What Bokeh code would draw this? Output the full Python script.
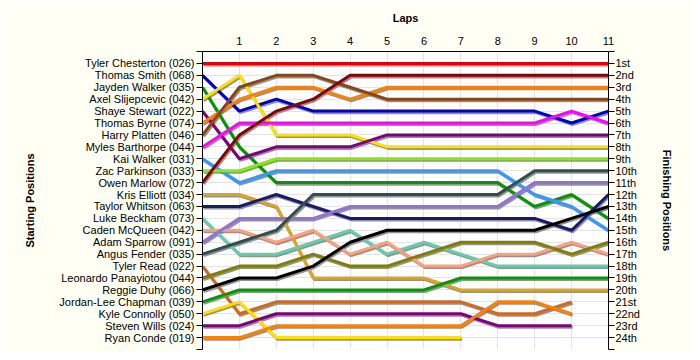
from bokeh.plotting import figure
from bokeh.models import Range1d, FixedTicker, LinearAxis
from bokeh.embed import file_html
from bokeh.resources import INLINE

# ---- data ----
laps_ticks = [0, 1, 2, 3, 4, 5, 6, 7, 8, 9, 10, 11]
lap_labels = ["", "1", "2", "3", "4", "5", "6", "7", "8", "9", "10", "11"]

drivers = [
    "Tyler Chesterton (026)", "Thomas Smith (068)", "Jayden Walker (035)",
    "Axel Slijepcevic (042)", "Shaye Stewart (022)", "Thomas Byrne (074)",
    "Harry Platten (046)", "Myles Barthorpe (044)", "Kai Walker (031)",
    "Zac Parkinson (033)", "Owen Marlow (072)", "Kris Elliott (034)",
    "Taylor Whitson (063)", "Luke Beckham (073)", "Caden McQueen (042)",
    "Adam Sparrow (091)", "Angus Fender (035)", "Tyler Read (022)",
    "Leonardo Panayiotou (044)", "Reggie Duhy (066)", "Jordan-Lee Chapman (039)",
    "Kyle Connolly (050)", "Steven Wills (024)", "Ryan Conde (019)",
]

finish_labels = ["1st", "2nd", "3rd", "4th", "5th", "6th", "7th", "8th", "9th",
                 "10th", "11th", "12th", "13th", "14th", "15th", "16th", "17th",
                 "18th", "19th", "20th", "21st", "22nd", "23rd", "24th"]

# positions per lap (lap 0 = start)
positions = [
    [1, 1, 1, 1, 1, 1, 1, 1, 1, 1, 1, 1],
    [2, 5, 4, 5, 5, 5, 5, 5, 5, 5, 6, 5],
    [3, 8, 11, 11, 11, 11, 11, 11, 11, 13, 12, 14],
    [4, 2, 7, 7, 7, 8, 8, 8, 8, 8, 8, 8],
    [5, 9, 8, 8, 8, 7, 7, 7, 7, 7, 7, 7],
    [6, 4, 3, 3, 4, 3, 3, 3, 3, 3, 3, 3],
    [7, 3, 2, 2, 3, 4, 4, 4, 4, 4, 4, 4],
    [8, 6, 6, 6, 6, 6, 6, 6, 6, 6, 5, 6],
    [9, 11, 10, 10, 10, 10, 10, 10, 10, 12, 13, 15],
    [10, 10, 9, 9, 9, 9, 9, 9, 9, 9, 9, 9],
    [11, 7, 5, 4, 2, 2, 2, 2, 2, 2, 2, 2],
    [12, 12, 13, 19, 19, 19, 19, 20, 20, 20, 20, 20],
    [13, 13, 12, 13, 14, 14, 14, 14, 14, 14, 15, 12],
    [14, 17, 17, 16, 15, 17, 16, 17, 18, 18, 18, 18],
    [15, 15, 16, 15, 17, 16, 18, 18, 17, 17, 16, 17],
    [16, 14, 14, 14, 13, 13, 13, 13, 13, 11, 11, 11],
    [17, 16, 15, 12, 12, 12, 12, 12, 12, 10, 10, 10],
    [18, 22, 21, 21, 21, 21, 21, 21, 22, 22, 21],
    [19, 18, 18, 17, 18, 18, 17, 16, 16, 16, 17, 16],
    [20, 19, 19, 18, 16, 15, 15, 15, 15, 15, 14, 13],
    [21, 20, 20, 20, 20, 20, 20, 19, 19, 19, 19, 19],
    [22, 21, 24, 24, 24, 24, 24, 24],
    [23, 23, 22, 22, 22, 22, 22, 22, 23, 23, 23],
    [24, 24, 23, 23, 23, 23, 23, 23, 21, 21, 22],
]

colors = [
    "#E00000", "#0000CC", "#009A00", "#FFE000", "#800080", "#FF8000",
    "#8B4513", "#FF00FF", "#3399FF", "#80F000", "#8B0000", "#DAA520",
    "#191970", "#66CDAA", "#FFA07A", "#9370DB", "#2F4F4F", "#D2691E",
    "#808000", "#000000", "#009A00", "#FFE000", "#800080", "#FF8000",
]

FONT = "Liberation Sans"

p = figure(width=692, height=352,
           x_range=Range1d(0, 11), y_range=Range1d(25, 0),
           x_axis_location="above",
           output_backend="svg", toolbar_location=None,
           min_border_left=202, min_border_right=84,
           min_border_top=51, min_border_bottom=3)

p.background_fill_color = "#FFFFFF"
p.border_fill_color = "#FFFFF4"
p.outline_line_color = None

# shadows first
dx, dy = 0.03, 0.13
for pos in positions:
    xs = [laps_ticks[i] + dx for i in range(len(pos))]
    ys = [v + dy for v in pos]
    p.line(xs, ys, line_color="#808080", line_width=3, line_alpha=0.85)

for pos, c in zip(positions, colors):
    xs = [laps_ticks[i] for i in range(len(pos))]
    p.line(xs, pos, line_color=c, line_width=3)

# axes
ytick_vals = list(range(0, 26))
left_over = {0: "", 25: ""}
right_over = {0: "", 25: ""}
for i, name in enumerate(drivers):
    left_over[i + 1] = name
for i, lab in enumerate(finish_labels):
    right_over[i + 1] = lab

x_over = {t: l for t, l in zip(laps_ticks, lap_labels)}

def style_axis(ax):
    ax.major_label_text_font = FONT
    ax.major_label_text_font_size = "11px"
    ax.major_label_text_color = "#000000"
    ax.axis_label_text_font = FONT
    ax.axis_label_text_font_size = "11px"
    ax.axis_label_text_font_style = "bold"
    ax.axis_label_text_color = "#000000"
    ax.axis_line_color = "#000000"
    ax.major_tick_line_color = "#000000"
    ax.minor_tick_line_color = None
    ax.major_tick_in = 0

xa = p.xaxis[0]
xa.ticker = FixedTicker(ticks=laps_ticks)
xa.major_label_overrides = x_over
xa.axis_label = "Laps"
style_axis(xa)
xa.major_tick_out = 0
xa.major_label_standoff = 7
xa.axis_label_standoff = 10

ya = p.yaxis[0]
ya.ticker = FixedTicker(ticks=ytick_vals)
ya.major_label_overrides = left_over
ya.axis_label = "Starting Positions"
style_axis(ya)
ya.major_tick_out = 6
ya.major_label_standoff = 2
ya.axis_label_standoff = 20

ra = LinearAxis(ticker=FixedTicker(ticks=ytick_vals),
                major_label_overrides=right_over,
                axis_label="Finishing Positions")
style_axis(ra)
ra.major_tick_out = 6
ra.major_label_standoff = 1
ra.axis_label_standoff = 18
p.add_layout(ra, "right")

p.xgrid.grid_line_color = "#E4E4E4"
p.ygrid.grid_line_color = "#E4E4E4"
p.ygrid.ticker = FixedTicker(ticks=ytick_vals)

open("out.html", "w").write(file_html(p, INLINE))
